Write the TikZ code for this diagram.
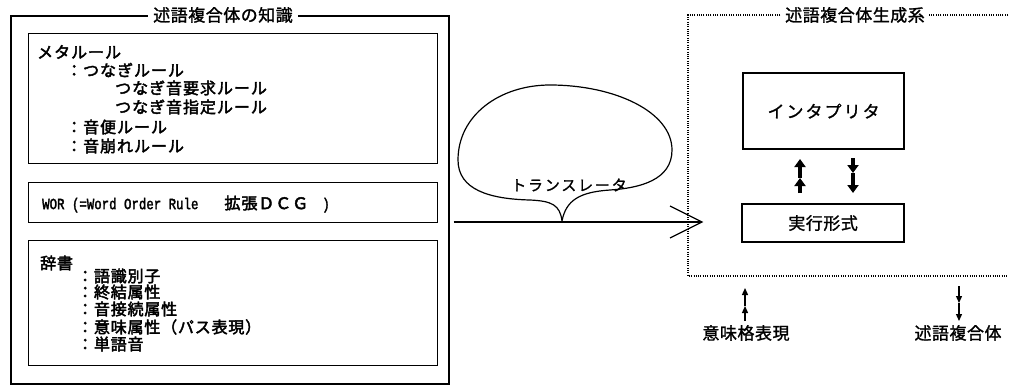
\documentclass[tikz,border=0pt]{standalone}
\usepackage{fontspec}
\setmainfont{Noto Sans CJK JP}
\newfontfamily\jpbold[FakeBold=2.6,LetterSpace=6]{Noto Sans CJK JP}
\newfontfamily\jpdict[FakeBold=2.6,LetterSpace=5]{Noto Sans CJK JP}
\newfontfamily\jpreg[FakeBold=1.4,LetterSpace=3]{Noto Sans CJK JP}
\newfontfamily\jpkana[FakeBold=1.2,LetterSpace=12]{Noto Sans CJK JP}
\newfontfamily\monobold[FakeBold=2.5]{Liberation Mono}
\newcommand{\worascii}[1]{\scalebox{1}[1.25]{\monobold\fontsize{12.4}{14}\selectfont #1}}
\usetikzlibrary{arrows.meta,calc}

\begin{document}
\begin{tikzpicture}[x=1pt,y=-1pt,
  panel/.style={draw, inner sep=0pt, anchor=north west},
  outerpanel/.style={panel, line width=1.6pt},
  innerpanel/.style={panel, line width=1pt},
  unitbox/.style={panel, line width=2.2pt},
  boxtitle/.style={fill=white, inner xsep=5pt, inner ysep=1pt, font=\fontsize{17}{17}\selectfont\jpreg},
  item/.style={anchor=west, inner sep=0pt, font=\fontsize{16}{16}\selectfont\jpbold},
  ditem/.style={anchor=west, inner sep=0pt, font=\fontsize{16}{16}\selectfont\jpdict},
  label/.style={inner sep=0pt, font=\fontsize{17}{17}\selectfont\jpreg},
  bigtip/.style={-{Triangle[width=11pt,length=8pt]}, line width=#1},
  smalltip/.style={-{Triangle[width=6pt,length=7pt]}, line width=1.3pt},
  sysframe/.style={line width=1.3pt, dash pattern=on 1pt off 1.3pt}
]
\useasboundingbox (0,0) rectangle (1009,389);

% ---- knowledge panel ----
\node[outerpanel, minimum width=438pt, minimum height=368pt] (know) at (10,15) {};
\node[boxtitle] (knowtitle) at (223,15) {述語複合体の知識};

\node[innerpanel, minimum width=409pt, minimum height=130pt] (meta) at (28,33) {};
\node[item] (m0) at (37,52)  {メタルール};
\node[item] (m1) at (66,70)  {：つなぎルール};
\node[item] (m2) at (115,88) {つなぎ音要求ルール};
\node[item] (m3) at (115,107){つなぎ音指定ルール};
\node[item] (m4) at (66,127) {：音便ルール};
\node[item] (m5) at (66,146) {：音崩れルール};

\node[innerpanel, minimum width=409pt, minimum height=40pt] (wor) at (28,182) {};
\node[anchor=west, inner sep=0pt] (wortext) at (42,204)
  {\worascii{WOR (=Word Order Rule}\hspace{26pt}{\fontsize{16}{16}\selectfont\jpbold 拡張ＤＣＧ}\hspace{14pt}\worascii{)}};

\node[innerpanel, minimum width=409pt, minimum height=125pt] (dict) at (28,240) {};
\node[ditem] (d0) at (40,263) {辞書};
\node[ditem] (d1) at (77,276) {：語識別子};
\node[ditem] (d2) at (77,292) {：終結属性};
\node[ditem] (d3) at (77,309) {：音接続属性};
\node[ditem] (d4) at (77,327) {：意味属性（パス表現）};
\node[ditem] (d5) at (77,344) {：単語音};

% ---- generator system ----
\draw[sysframe] (1008,15) -- (688,15) -- (688,276) -- (1008,276);
\node[boxtitle, inner xsep=4pt] (gentitle) at (855,15) {述語複合体生成系};

\node[unitbox, minimum width=161pt, minimum height=76pt] (interp) at (742,72) {};
\node[label, font=\fontsize{17}{17}\selectfont\jpkana] at (interp.center) {インタプリタ};
\node[unitbox, minimum width=162pt, minimum height=38pt] (exec) at (741,203) {};
\node[label] at (exec.center) {実行形式};

% doubled arrows between the interpreter and the executable form
\coordinate (upfoot) at (800,193);
\coordinate (upmid)  at (800,178);
\coordinate (uphead) at (800,159);
\coordinate (dnfoot) at (853,158);
\coordinate (dnmid)  at (853,173);
\coordinate (dnhead) at (853,193);
\draw[bigtip=4.5pt] (upfoot) -- (upmid);
\draw[bigtip=4.5pt] (upmid) -- (uphead);
\draw[bigtip=3.5pt] (dnfoot) -- (dnmid);
\draw[bigtip=3.5pt] (dnmid) -- (dnhead);

% ---- input / output ----
\node[label] (meaning) at (746,333) {意味格表現};
\node[label] (result) at (958,333) {述語複合体};
\coordinate (infoot) at (745,321);
\coordinate (inmid)  at (745,306);
\coordinate (inhead) at (745,288);
\coordinate (outfoot) at (959,286);
\coordinate (outmid)  at (959,303);
\coordinate (outhead) at (959,321);
\draw[smalltip] (infoot) -- (inmid);
\draw[smalltip] (inmid) -- (inhead);
\draw[smalltip] (outfoot) -- (outmid);
\draw[smalltip] (outmid) -- (outhead);

% ---- translator ----
\coordinate (trtip) at (702,222);
\coordinate (trstart) at (know.east |- trtip);
\draw[line width=2.6pt] ([xshift=4pt]trstart) -- (trtip);
\draw[line width=1.3pt] (670,206) -- (trtip) -- (670,238);
\draw[line width=1.2pt] (562,221) .. controls (560,205) and (552,201) .. (530,200)
  .. controls (490,199) and (458,190) .. (458,160)
  .. controls (458,115) and (500,85) .. (550,85)
  .. controls (615,85) and (672,112) .. (672,150)
  .. controls (672,180) and (640,188) .. (610,190)
  .. controls (580,192) and (566,200) .. (562,221);
\node[label, font=\fontsize{15}{15}\selectfont\jpkana] (trans) at (569,185) {トランスレータ};
\end{tikzpicture}
\end{document}
